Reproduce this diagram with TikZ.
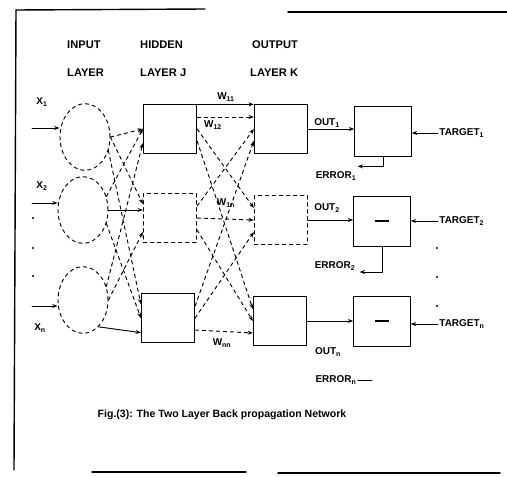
\documentclass[tikz,border=0pt]{standalone}
\usepackage{fontspec}
\setmainfont{Liberation Sans}
\usetikzlibrary{arrows.meta,calc,positioning,shapes.geometric}
\tikzset{
  every picture/.append style={line cap=round,line join=round},
  net neuron/.style={ellipse,draw,thick,dashed,minimum width=1.5cm,minimum height=2.0cm,inner sep=0pt},
  net unit/.style={rectangle,draw,thick,minimum width=1.6cm,minimum height=1.45cm,inner sep=0pt},
  net faint/.style={net unit,dashed},
  net compare/.style={net unit,minimum width=1.7cm,minimum height=1.5cm},
  net arrow/.style={thick,-{Stealth[length=1.6mm]}},
  net link/.style={thick,dashed,-{Stealth[length=1.6mm]}},
  net note/.style={font=\bfseries\fontsize{8.5}{10}\selectfont,inner sep=1pt},
  net head/.style={font=\bfseries\fontsize{9.5}{11}\selectfont,inner sep=0pt,anchor=west},
  net frame/.style={very thick}
}

\begin{document}
\begin{tikzpicture}[x=0.03cm,y=-0.03cm]
  \useasboundingbox (0,0) rectangle (507,476);
  % broken frame of the scan
  \draw[net frame] (16,10) -- (205,9);
  \draw[net frame] (288,12) -- (507,12);
  \draw[net frame] (16,10) -- (14,470);
  \draw[net frame] (92,472) -- (246,472);
  \draw[net frame] (278,473) -- (500,473);

  % layer headings
  \node[net head] (hin1) at (67,45) {INPUT};
  \node[net head] (hin2) at (67,73) {LAYER};
  \node[net head] (hhid1) at (140,45) {HIDDEN};
  \node[net head] (hhid2) at (140,73) {LAYER J};
  \node[net head] (hout1) at (252,45) {OUTPUT};
  \node[net head] (hout2) at (250,73) {LAYER K};

  % units
  \node[net neuron] (in1) at (85,137) {};
  \node[net neuron] (in2) at (83,210) {};
  \node[net neuron] (in3) at (83,300) {};
  \node[net unit] (hid1) at (170,129) {};
  \node[net faint] (hid2) at (170,218) {};
  \node[net unit] (hid3) at (168,318) {};
  \node[net unit] (out1) at (281,129) {};
  \node[net faint] (out2) at (281,220) {};
  \node[net unit] (out3) at (280,321) {};
  \node[net compare] (cmp1) at (383,131) {};
  \node[net compare] (cmp2) at (382,221) {\rule{0.42cm}{1.3pt}};
  \node[net compare] (cmp3) at (382,321) {\rule{0.42cm}{1.3pt}};

  % inputs
  \node[net note] (x1) at (42,102) {X\textsubscript{1}};
  \node[net note] (x2) at (42,186) {X\textsubscript{2}};
  \node[net note] (xn) at (40,328) {X\textsubscript{n}};
  \coordinate (xa1) at (32,128);
  \coordinate (xa2) at (32,203);
  \coordinate (xan) at (32,306);
  \draw[net arrow] (xa1) -- (xa1 -| in1.west);
  \draw[net arrow] (xa2) -- (xa2 -| in2.west);
  \draw[net arrow] (xan) -- (xan -| in3.west);
  \foreach \y in {218,248,276}
    \fill (33,\y) circle (1pt);

  % input to hidden
  \foreach \i in {1,2,3}{
    \foreach \j in {1,2,3}{
      \pgfmathtruncatemacro\ang{30-(\j-1)*30}
      \ifnum\i=\j\relax\else
        \draw[net link] (in\i.\ang) -- ($(hid\j.west)+(0,{(\i-2)*14})$);
      \fi
    }
  }
  \draw[net link] (in1.east) -- (hid1.west);
  \draw[net arrow] (in2.east) -- (in2.east -| hid2.west);
  \draw[net arrow] (in3.-60) -- ($(hid3.south west)+(0,-10)$);

  % hidden to output
  \foreach \j in {1,2,3}{
    \foreach \k in {1,2,3}{
      \draw[net link] ($(hid\j.east)+(0,{(\k-2)*12})$) -- ($(out\k.west)+(0,{(\j-2)*12})$);
    }
  }
  \draw[net arrow] (hid1.north east) -- (out1.north west);
  \node[net note] (w11) at (226,97) {W\textsubscript{11}};
  \node[net note] (w12) at (213,125) {W\textsubscript{12}};
  \node[net note] (w1n) at (226,203) {W\textsubscript{1n}};
  \node[net note] (wnn) at (222,343) {W\textsubscript{nn}};

  % outputs into comparators
  \draw[net arrow] (out1.east) -- (out1.east -| cmp1.west);
  \draw[net arrow] (out2.east) -- (out2.east -| cmp2.west);
  \draw[net arrow] (out3.east) -- (out3.east -| cmp3.west);
  \node[net note] (o1) at (327,123) {OUT\textsubscript{1}};
  \node[net note] (o2) at (327,208) {OUT\textsubscript{2}};
  \node[net note] (on) at (328,352) {OUT\textsubscript{n}};

  % targets
  \node[net note,anchor=west] (tg1) at (438,133) {TARGET\textsubscript{1}};
  \node[net note,anchor=west] (tg2) at (438,221) {TARGET\textsubscript{2}};
  \node[net note,anchor=west] (tgn) at (438,324) {TARGET\textsubscript{n}};
  \draw[net arrow] (tg1.west) -- (tg1.west -| cmp1.east);
  \draw[net arrow] (tg2.west) -- (tg2.west -| cmp2.east);
  \draw[net arrow] (tgn.west) -- (tgn.west -| cmp3.east);
  \foreach \y in {248,277,306}
    \fill (437,\y) circle (1pt);

  % errors
  \node[net note] (er1) at (336,176) {ERROR\textsubscript{1}};
  \node[net note] (er2) at (335,266) {ERROR\textsubscript{2}};
  \node[net note] (ern) at (336,380) {ERROR\textsubscript{n}};
  \draw[net arrow] (cmp1.south) |- ($(er1.north east)+(0,-4)$);
  \draw[net arrow] (cmp2.south) |- ($(er2.east)+(3,6)$);
  \draw[thick] (ern.east) -- ++(14,0);

  % caption
  \node[font=\bfseries\fontsize{9}{11}\selectfont] (cap) at (222,415)
    {Fig.(3): The Two Layer Back propagation Network};
\end{tikzpicture}
\end{document}
